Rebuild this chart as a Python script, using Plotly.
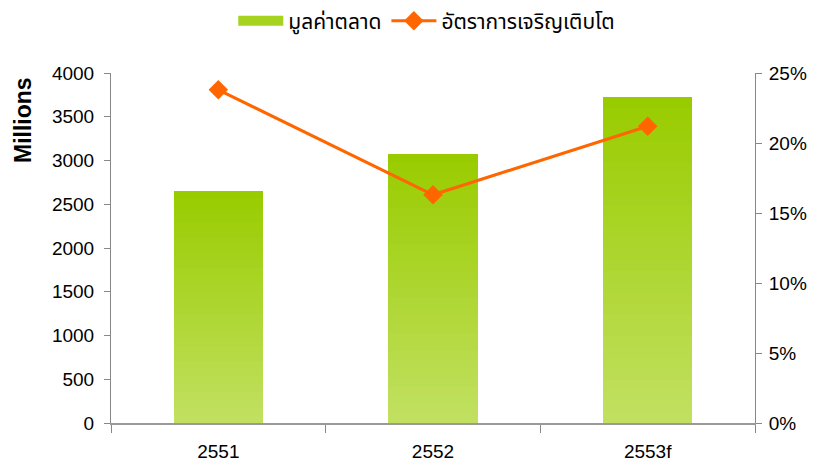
import plotly.graph_objects as go

categories = ["2551", "2552", "2553f"]
market_value = [2650, 3075, 3725]
growth_rate = [0.238, 0.163, 0.212]
bar_name = "มูลค่าตลาด"
line_name = "อัตราการเจริญเติบโต"
y_title = "Millions"

FONT = "Liberation Sans, Arial, Noto Sans Thai, Noto Sans, sans-serif"

top_rgb = (153, 204, 0)
bot_rgb = (193, 224, 96)
N = 30

fig = go.Figure()
for k in range(N):
    t = k / (N - 1)  # 0 bottom, 1 top
    c = tuple(round(bot_rgb[j] + (top_rgb[j] - bot_rgb[j]) * t) for j in range(3))
    fig.add_trace(go.Bar(
        x=categories,
        y=[v / N for v in market_value],
        marker=dict(color="rgb(%d,%d,%d)" % c, line=dict(width=0)),
        width=0.415,
        name=bar_name,
        legendgroup="bars",
        showlegend=False,
        hoverinfo="skip",
    ))

# legend entry for the bars (wide green swatch)
fig.add_trace(go.Scatter(
    x=[None], y=[None], mode="lines", name=bar_name, legendgroup="bars",
    line=dict(color="#A6D31F", width=12),
))

fig.add_trace(go.Scatter(
    x=categories, y=growth_rate, yaxis="y2", name=line_name,
    mode="lines+markers",
    line=dict(color="#FF6600", width=3),
    marker=dict(symbol="diamond", size=15, color="#FF6600"),
))

fig.add_annotation(
    text="<b>%s</b>" % y_title, textangle=-90, showarrow=False,
    xref="paper", yref="paper", x=-0.137, y=0.865,
    xanchor="center", yanchor="middle", font=dict(size=23),
)

fig.update_layout(
    width=816, height=463,
    barmode="stack", bargap=0,
    plot_bgcolor="white", paper_bgcolor="white",
    margin=dict(l=111, r=61, t=73, b=40, autoexpand=False),
    font=dict(family=FONT, size=19, color="black"),
    legend=dict(orientation="h", x=0.523, xanchor="center", xref="container",
                y=1 - 21 / 463, yanchor="middle", yref="container",
                font=dict(size=21), traceorder="normal", itemwidth=45),
    xaxis=dict(showline=True, linecolor="#999999", linewidth=1.5,
               ticks="outside", tickson="boundaries", ticklen=8, tickcolor="#888888",
               showgrid=False, tickfont=dict(size=19), automargin=False,
               ticklabelstandoff=10),
    yaxis=dict(range=[0, 4000], dtick=500, showline=True, linecolor="#888888",
               ticks="outside", ticklen=6, tickcolor="#888888", showgrid=False,
               zeroline=False, tickfont=dict(size=19), automargin=False,
               ticklabelstandoff=6),
    yaxis2=dict(range=[0, 0.25], dtick=0.05, tickformat=".0%", overlaying="y",
                side="right", showline=True, linecolor="#888888",
                ticks="outside", ticklen=6, tickcolor="#888888", showgrid=False,
                zeroline=False, tickfont=dict(size=19), automargin=False,
                ticklabelstandoff=3),
)

fig.write_html("out.html", config={"displayModeBar": False},
               post_script="document.body.style.margin='0';")
